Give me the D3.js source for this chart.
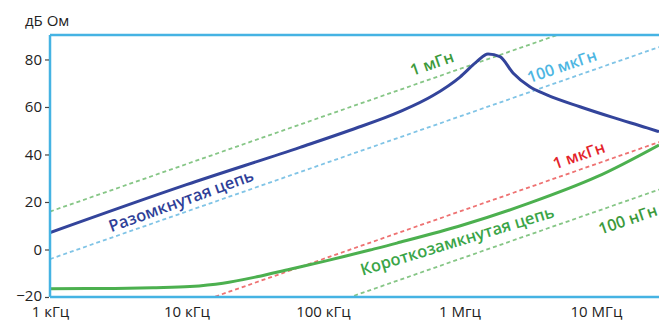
<!DOCTYPE html>
<html>
<head>
<meta charset="utf-8">
<script src="https://cdn.jsdelivr.net/npm/d3@7"></script>
<style>
  html, body { margin: 0; padding: 0; background: #fff; }
  svg { display: block; }
  text { font-family: "Open Sans", "Noto Sans", sans-serif; }
</style>
</head>
<body>
<svg id="chart" width="659" height="323"></svg>
<script>
// Axis ticks
const freqTicks = [1e3, 1e4, 1e5, 1e6, 1e7];
const freqTickLabels = ["1 кГц", "10 кГц", "100 кГц", "1 Мгц", "10 МГц"];
const dbTicks = [-20, 0, 20, 40, 60, 80];

// Open-circuit impedance (Гц, дБ Ом)
const openFreq = [1e3, 10e3, 68e3, 158e3, 366e3, 640e3, 1.01e6, 1.34e6, 1.62e6,
                  1.98e6, 2.47e6, 3.28e6, 4.37e6, 7.64e6, 13.3e6, 23.7e6, 29e6];
const openDb   = [7.1, 27.3, 43.0, 50.2, 58.0, 64.8, 72.6, 79.1, 82.3,
                  81.2, 74.3, 68.5, 65.1, 60.1, 55.6, 51.2, 49.6];

// Short-circuit impedance (Гц, дБ Ом)
const shortFreq = [1e3, 3e3, 6e3, 10.6e3, 18.5e3, 32.8e3, 57.3e3, 100e3, 221e3, 348e3,
                   1.06e6, 3.28e6, 10.2e6, 29e6];
const shortDb   = [-16.5, -16.4, -16.1, -15.6, -14.2, -11.5, -8.3, -5.1, -0.2, 2.7,
                   10.3, 19.6, 30.65, 44.0];

// Reference inductances (Гн) and their labels
const inductances = [1e-3, 1e-4, 1e-6, 1e-7];
const inductanceLabels = ["1 мГн", "100 мкГн", "1 мкГн", "100 нГн"];

// Curve labels
const curveLabels = ["Разомкнутая цепь", "Короткозамкнутая цепь"];
const yUnitLabel = "дБ Ом";

const svg = d3.select("#chart");
const W = 659, H = 323;
const m = { left: 50, top: 35, right: 0, bottom: 26 };

const x = d3.scaleLog().domain([1e3, 2.9e7]).range([m.left, W - m.right]);
const y = d3.scaleLinear().domain([-20, 90.3]).range([H - m.bottom, m.top]);

const frameColor = "#45b3e3";

svg.append("defs").append("clipPath").attr("id", "plot-clip")
  .append("rect")
  .attr("x", m.left).attr("y", m.top)
  .attr("width", W - m.right - m.left).attr("height", H - m.bottom - m.top);

const plot = svg.append("g").attr("clip-path", "url(#plot-clip)");

// Inductive reactance lines: |Z| = 2*pi*f*L
const lColors = ["#86c686", "#80c4e6", "#ee7272", "#86c686"];
const fEnds = x.domain();
inductances.forEach((L, i) => {
  const pts = fEnds.map(f => [f, 20 * Math.log10(2 * Math.PI * f * L)]);
  plot.append("path")
    .datum(pts)
    .attr("fill", "none")
    .attr("stroke", lColors[i])
    .attr("stroke-width", 1.8)
    .attr("stroke-dasharray", "4,3")
    .attr("d", d3.line().x(d => x(d[0])).y(d => y(d[1])));
});

// Impedance curves
const px = d => x(d[0]), py = d => y(d[1]);

plot.append("path")
  .datum(shortFreq.map((f, i) => [f, shortDb[i]]))
  .attr("fill", "none")
  .attr("stroke", "#4cb04f")
  .attr("stroke-width", 3)
  .attr("d", d3.line().x(px).y(py).curve(d3.curveCatmullRom.alpha(0.5)));

plot.append("path")
  .datum(openFreq.map((f, i) => [f, openDb[i]]))
  .attr("fill", "none")
  .attr("stroke", "#33449b")
  .attr("stroke-width", 3)
  .attr("stroke-linejoin", "round")
  .attr("d", d3.line().x(px).y(py).curve(d3.curveMonotoneX));

// Frame
svg.append("line")
  .attr("x1", m.left).attr("x2", m.left)
  .attr("y1", m.top).attr("y2", H - m.bottom)
  .attr("stroke", frameColor).attr("stroke-width", 2.5);
svg.append("line")
  .attr("x1", m.left).attr("x2", W)
  .attr("y1", m.top).attr("y2", m.top)
  .attr("stroke", frameColor).attr("stroke-width", 2.5);
svg.append("line")
  .attr("x1", m.left).attr("x2", W)
  .attr("y1", H - m.bottom).attr("y2", H - m.bottom)
  .attr("stroke", frameColor).attr("stroke-width", 2.5);

// Y axis
const yAxis = svg.append("g")
  .attr("transform", `translate(${m.left - 1},0)`)
  .call(d3.axisLeft(y).tickValues(dbTicks).tickSize(4).tickPadding(3));
yAxis.select(".domain").remove();
yAxis.selectAll(".tick line").attr("stroke", "#444").attr("stroke-width", 1.2);
yAxis.selectAll(".tick text")
  .attr("fill", "#222").style("font-size", "15px").style("font-family", '"Open Sans", sans-serif');
// lowest label sits a little higher so it clears the frequency labels
yAxis.selectAll(".tick").filter(d => d === -20).select("text").attr("dy", "0.2em");

// X axis
const xAxis = svg.append("g")
  .attr("transform", `translate(0,${H - m.bottom})`)
  .call(d3.axisBottom(x).tickValues(freqTicks)
    .tickFormat((d, i) => freqTickLabels[i]).tickSize(0).tickPadding(9));
xAxis.select(".domain").remove();
xAxis.selectAll(".tick text")
  .attr("fill", "#222").style("font-size", "15px").style("font-family", '"Open Sans", sans-serif');

// Unit label
svg.append("text")
  .attr("x", 25).attr("y", 26)
  .attr("fill", "#222")
  .style("font-size", "15px")
  .text(yUnitLabel);

// Annotations placed in data coordinates
function note(label, f, db, angle, color, size) {
  svg.append("text")
    .attr("transform", `translate(${x(f)},${y(db)}) rotate(${angle})`)
    .attr("text-anchor", "middle")
    .attr("dominant-baseline", "central")
    .attr("fill", color)
    .style("font-size", size + "px")
    .style("font-weight", 600)
    .text(label);
}

const lTextColors = ["#3c9a3c", "#4db6e2", "#e3232b", "#3c9a3c"];
const lNotePos = [[628e3, 78.5], [5.63e6, 77.3], [7.5e6, 39.8], [17.1e6, 12.8]];
inductanceLabels.forEach((t, i) =>
  note(t, lNotePos[i][0], lNotePos[i][1], -19, lTextColors[i], 16));

note(curveLabels[0], 9.1e3, 20.8, -20, "#2f3f98", 16.5);
note(curveLabels[1], 959e3, 4.0, -17, "#3aa548", 16.5);
</script>
</body>
</html>
